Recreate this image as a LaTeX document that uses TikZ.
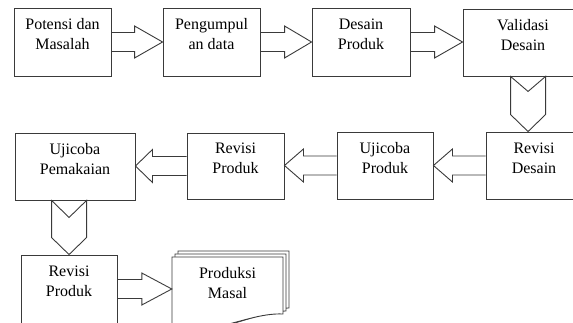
\documentclass[tikz,border=0pt]{standalone}
\usepackage{fontspec}
\setmainfont{Liberation Serif}
\usetikzlibrary{calc}
\definecolor{ln}{HTML}{3A3A3A}
\tikzset{
  box/.style={draw=ln, line width=0.9pt, fill=white, inner sep=0pt, minimum height=#1},
  box/.default=67pt,
  conn/.style={draw=ln, line width=0.9pt, line join=miter},
  doc/.style={draw=ln, line width=0.9pt, fill=white},
}
\newcommand\tx[1]{\raisebox{2pt}[0pt][0pt]{\fontsize{16pt}{20pt}\selectfont\begin{tabular}{@{}c@{}}#1\end{tabular}}}
% right block arrow: from #1.east to #2.west, head length #3
\newcommand\rarr[3]{\draw[conn] let \p1=(#1.east), \p2=(#2.west) in
  (\x1,\y1+9.5pt) -- (\x2-#3,\y1+9.5pt) -- (\x2-#3,\y1+16pt) -- (\x2,\y1)
  -- (\x2-#3,\y1-16pt) -- (\x2-#3,\y1-9.5pt) -- (\x1,\y1-9.5pt);}
% left block arrow: from #1.west to #2.east
\newcommand\larr[3]{\draw[conn] let \p1=(#1.west), \p2=(#2.east) in
  (\x1,\y1+9.5pt) -- (\x2+#3,\y1+9.5pt) -- (\x2+#3,\y1+16.5pt) -- (\x2,\y1)
  -- (\x2+#3,\y1-16.5pt) -- (\x2+#3,\y1-9.5pt) -- (\x1,\y1-9.5pt);}
% down chevron from #1 bottom to #2 top; #3 offset from #1 west, #4 width, #5 notch, #6 tip
\newcommand\dchev[6]{\draw[conn] let \p1=(#1.south west), \p2=(#2.north) in
  (\x1+#3,\y1) -- (\x1+#3+#4/2,\y1-#5) -- (\x1+#3+#4,\y1)
  -- (\x1+#3+#4,\y2+#6) -- (\x1+#3+#4/2,\y2) -- (\x1+#3,\y2+#6) -- cycle;}
\begin{document}
\begin{tikzpicture}[x=1pt,y=-1pt]
\useasboundingbox (0,0) rectangle (573,323);
\clip (0,0) rectangle (573,323);
% row 1
\node[box=68pt, minimum width=97pt] (b1) at (62.5,42) {\tx{Potensi dan\\Masalah}};
\node[box=68pt, minimum width=97pt] (b2) at (211.5,42) {\tx{Pengumpul\\an data}};
\node[box=68pt, minimum width=98pt] (b3) at (361,42) {\tx{Desain\\Produk}};
\node[box=67pt, minimum width=120pt] (b4) at (523,42.5) {\tx{Validasi\\Desain}};
% row 2
\node[box=67pt, minimum width=96pt] (b5) at (534,165.5) {\tx{Revisi\\Desain}};
\node[box=67pt, minimum width=96pt] (b6) at (385,165.5) {\tx{Ujicoba\\Produk}};
\node[box=66pt, minimum width=97pt] (b7) at (235.5,166) {\tx{Revisi\\Produk}};
\node[box=67pt, minimum width=120pt] (b8) at (75,166.5) {\tx{Ujicoba\\Pemakaian}};
% row 3
\node[box=68pt, minimum width=96pt] (b9) at (69,289) {\tx{Revisi\\Produk}};
% multi-document
\draw[doc] (178,251) -- (289,251) -- (289,308) .. controls (270,308) and (250,318) .. (230,322) -- (178,322) -- cycle;
\draw[doc] (175,254) -- (286,254) -- (286,311) .. controls (266,311) and (246,321) .. (226,325) -- (175,325) -- cycle;
\draw[doc] (172,257) -- (283,257) -- (283,314) .. controls (262,313) and (240,322) .. (220,326) .. controls (200,330) and (185,327) .. (172,324) -- cycle;
\node[inner sep=0pt, minimum width=111pt, minimum height=68pt] (b10) at (227.5,291) {\tx{Produksi\\Masal}};
% connectors
\rarr{b1}{b2}{28pt}
\rarr{b2}{b3}{27pt}
\rarr{b3}{b4}{28pt}
\dchev{b4}{b5}{48pt}{35pt}{15pt}{17pt}
\larr{b5}{b6}{19pt}
\larr{b6}{b7}{19pt}
\larr{b7}{b8}{17pt}
\dchev{b8}{b9}{37pt}{35pt}{17pt}{17pt}
\rarr{b9}{b10}{30pt}
\end{tikzpicture}
\end{document}
